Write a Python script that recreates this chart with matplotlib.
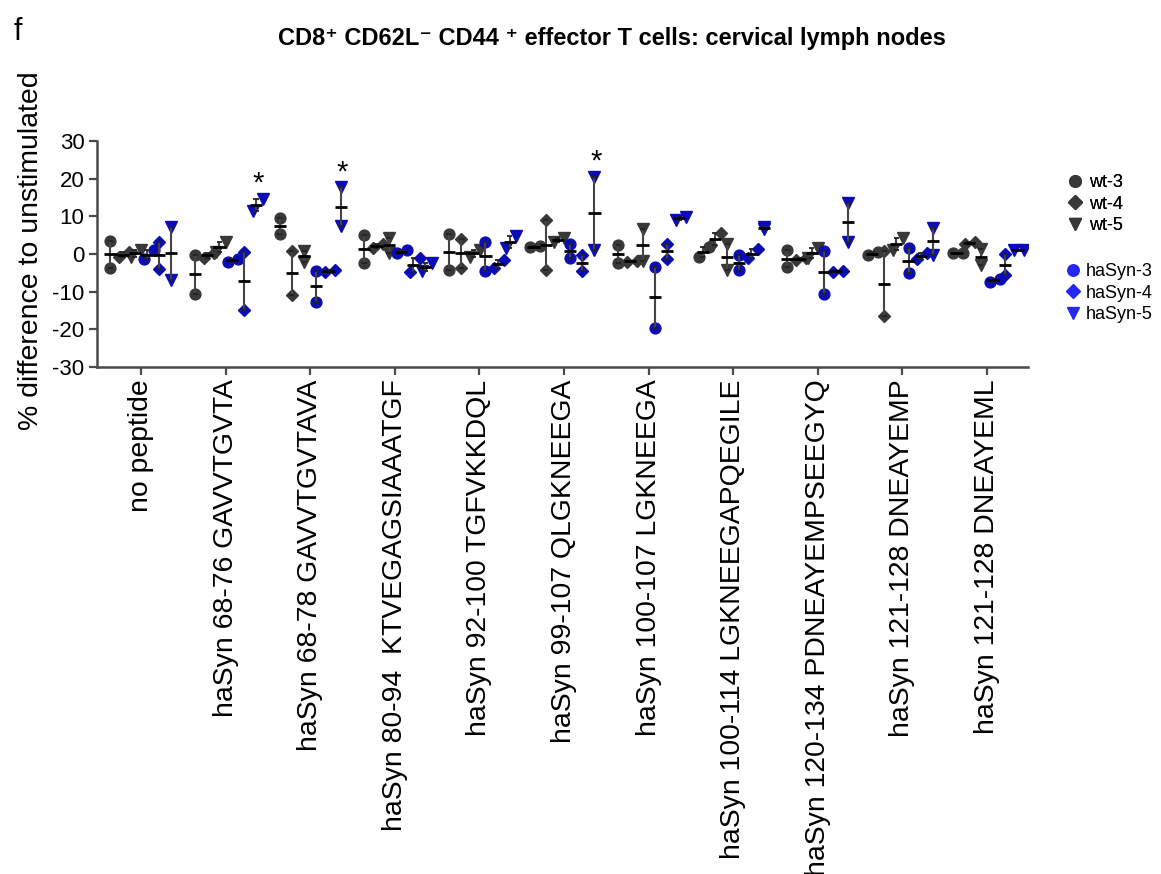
import numpy as np
import matplotlib
matplotlib.use('Agg')
import matplotlib.pyplot as plt
from matplotlib.lines import Line2D

plt.rcParams['font.family'] = ['Liberation Sans', 'DejaVu Sans']
plt.rcParams['axes.unicode_minus'] = False

# ---------------- data ----------------
categories = [
    "no peptide",
    "haSyn 68-76 GAVVTGVTA",
    "haSyn 68-78 GAVVTGVTAVA",
    "haSyn 80-94  KTVEGAGSIAAATGF",
    "haSyn 92-100 TGFVKKDQL",
    "haSyn 99-107 QLGKNEEGA",
    "haSyn 100-107 LGKNEEGA",
    "haSyn 100-114 LGKNEEGAPQEGILE",
    "haSyn 120-134 PDNEAYEMPSEEGYQ",
    "haSyn 121-128 DNEAYEMP",
    "haSyn 121-128 DNEAYEML",
]
group_names = ["wt-3", "wt-4", "wt-5", "haSyn-3", "haSyn-4", "haSyn-5"]

wt3 = [(3.5, -3.6), (-0.3, -10.5), (9.5, 5.3), (5.0, -2.3), (5.3, -4.3), (1.8, 2.1),
       (2.4, -2.5), (-0.8, 1.8), (1.1, -3.5), (-0.3, 0.6), (0.2, 0.4)]
wt4 = [(-0.9, 0.5), (-1.0, 0.3), (0.9, -10.9), (1.5, 2.8), (4.0, -3.6), (9.0, -4.1),
       (-2.0, -1.9), (2.4, 5.7), (-1.5, -1.0), (0.8, -16.5), (2.6, 3.3)]
wt5 = [(-0.7, 1.1), (0.5, 3.2), (0.8, -2.0), (4.3, 0.3), (-0.7, 1.1), (3.1, 4.2),
       (6.6, -1.9), (2.8, -4.2), (-1.1, 1.5), (1.2, 4.2), (1.3, -2.9)]
hasyn3 = [(-1.4, 1.1), (-2.0, -1.2), (-4.5, -12.6), (0.2, 1.1), (3.3, -4.5), (2.8, -1.1),
          (-3.5, -19.5), (-0.3, -4.2), (0.8, -10.5), (1.5, -5.0), (-7.3, -6.6)]
hasyn4 = [(3.3, -3.9), (0.5, -14.8), (-4.7, -4.2), (-4.7, -1.1), (-3.8, -1.6), (-0.3, -4.5),
          (2.8, -1.3), (-1.0, 1.3), (-4.7, -4.4), (-1.3, 0.4), (-0.1, -5.6)]
hasyn5 = [(7.3, -6.9), (11.5, 14.6), (17.7, 7.5), (-4.4, -2.5), (1.5, 4.8), (20.5, 1.1),
          (9.0, 9.9), (7.3, 6.7), (13.6, 3.3), (7.0, -0.3), (1.2, 1.2)]

series = [wt3, wt4, wt5, hasyn3, hasyn4, hasyn5]
significant = [(1, "haSyn-5"), (2, "haSyn-5"), (5, "haSyn-5")]
yticks = [30, 20, 10, 0, -10, -20, -30]

# ---------------- style / layout ----------------
GREY = '#383838'
BLUE = '#0c0cb4'
LEG_BLUE = '#2626f5'
markers = ['o', 'D', 'v', 'o', 'D', 'v']
msizes = [7.8, 6.2, 8.2, 7.8, 6.2, 8.2]
colors = [GREY, GREY, GREY, BLUE, BLUE, BLUE]
GROUP_STEP = 0.144
SIDE_THRESH = 3.7
STACK_OVERRIDE = {(2, "wt-5"), (7, "haSyn-5")}

fig = plt.figure(figsize=(11.61, 8.74), dpi=100)
ax = fig.add_axes([0.0835, 0.580, 0.802, 0.2586])

for gi, (gname, data) in enumerate(zip(group_names, series)):
    off = (gi - 2.5) * GROUP_STEP
    for ci, pair in enumerate(data):
        c = ci + off
        vals = np.sort(np.array(pair, dtype=float))
        if (ci, gname) in STACK_OVERRIDE or abs(vals[1] - vals[0]) >= SIDE_THRESH:
            xs = [c, c]
        else:
            xs = [c - 0.041, c + 0.077]
        ax.plot(xs, vals, linestyle='none', marker=markers[gi], ms=msizes[gi],
                color=colors[gi], mec=colors[gi], zorder=2)
        m = vals.mean()
        sem = vals.std(ddof=1) / np.sqrt(len(vals))
        ax.vlines(c, m - sem, m + sem, color='#444444', lw=1.5, zorder=3)
        ax.hlines([m - sem, m + sem], c - 0.03, c + 0.03, color='#222222', lw=1.3, zorder=3)
        ax.hlines(m, c - 0.072, c + 0.072, color='black', lw=2.0, zorder=4)

for ci, gname in significant:
    gi = group_names.index(gname)
    c = ci + (gi - 2.5) * GROUP_STEP
    top = max(series[gi][ci])
    ax.text(c + 0.02, top + 4.0, '*', ha='center', va='center', fontsize=21, color='black')

ax.set_xlim(-0.52, 10.485)
ax.set_ylim(-30, 30)
ax.set_yticks(yticks)
ax.set_yticklabels([str(t) for t in yticks], fontsize=16)
ax.set_xticks(range(len(categories)))
ax.set_xticklabels(categories, rotation=90, fontsize=20.4, va='top', ha='center')
for s in ['top', 'right']:
    ax.spines[s].set_visible(False)
for s in ['left', 'bottom']:
    ax.spines[s].set_color('#4a4a4a')
    ax.spines[s].set_linewidth(1.8)
ax.tick_params(axis='both', length=6, width=1.6, color='#4a4a4a', pad=3)

fig.text(0.027, 0.713, '% difference to unstimulated', rotation=90,
         ha='center', va='center', fontsize=20.5)
fig.text(0.527, 0.956, 'CD8\u207a CD62L\u207b CD44 \u207a effector T cells: cervical lymph nodes',
         ha='center', va='center', fontsize=17, fontweight='bold')
fig.text(0.012, 0.963, 'f', ha='left', va='center', fontsize=22)

wt_handles = [Line2D([], [], ls='none', marker=markers[i], ms=msizes[i] + 0.5, color=GREY,
                     label=group_names[i]) for i in range(3)]
ha_handles = [Line2D([], [], ls='none', marker=markers[i], ms=msizes[i] + 0.5, color=LEG_BLUE,
                     label=group_names[i]) for i in range(3, 6)]
leg1 = fig.legend(handles=wt_handles, loc='upper left', bbox_to_anchor=(1068 / 1161, 1 - 174 / 874),
                  frameon=False, fontsize=13, handlelength=0.8, handletextpad=0.35,
                  labelspacing=0.25, borderpad=0, borderaxespad=0)
fig.add_artist(leg1)
fig.legend(handles=ha_handles, loc='upper left', bbox_to_anchor=(1066 / 1161, 1 - 263 / 874),
           frameon=False, fontsize=13, handlelength=0.8, handletextpad=0.3,
           labelspacing=0.25, borderpad=0, borderaxespad=0)

fig.savefig('out.png', dpi=100)
